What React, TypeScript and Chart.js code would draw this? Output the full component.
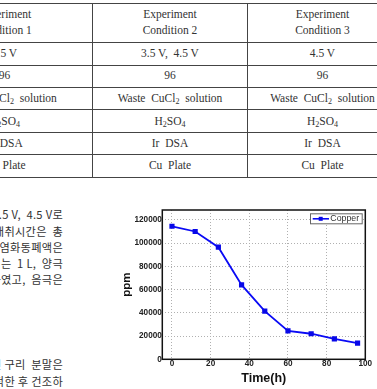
import React, { useEffect, useRef } from "react";
import { Chart, registerables } from "chart.js";

Chart.register(...registerables);

// ---- chart data ----
const seriesLabel = "Copper";
const timeH = [0, 12, 24, 36, 48, 60, 72, 84, 96];
const copperPpm = [114500, 110000, 96500, 64000, 41500, 24500, 22000, 17500, 14000];
const xTicks = [0, 20, 40, 60, 80, 100];
const yTicks = [0, 20000, 40000, 60000, 80000, 100000, 120000];
const xTitle = "Time(h)";
const yTitle = "ppm";

// ---- surrounding page content ----
const tableLinesY = [3.5, 42.5, 65, 87.5, 109.5, 132, 154.5, 177];
const tableColX = [92.5, 247.5];
const colCenters = [4.5, 170, 322.5];
const headerTop = ["Experiment", "Experiment", "Experiment"];
const headerBottom = ["Condition 1", "Condition 2", "Condition 3"];
const rowCenters = [52.7, 75, 97.7, 120.7, 142.7, 164.7];
const koreanLines = [
  "실험 전압은 3.5 V,  4.5 V로",
  "전해액의 채취시간은  총",
  "실험에 사용된 염화동폐액은",
  "전해액의 부피는  1 L,  양극",
  "Ir DSA를 사용하였고,  음극은",
  "전해 회수된 구리  분말은",
  "증류수로 세척한 후 건조하",
];
const koreanCenters = [214, 230.5, 246.5, 262.5, 278.5, 364, 381];

const FONT = "'Liberation Sans', Arial, sans-serif";
const SERIF = "'Liberation Serif', 'Times New Roman', serif";

const sub = (t: string) => (
  <sub style={{ fontSize: "0.7em", verticalAlign: "-0.3em", lineHeight: 0 }}>{t}</sub>
);
const cellContent = (r: number): React.ReactNode => {
  switch (r) {
    case 0:
      return null;
    case 1:
      return "96";
    case 2:
      return (
        <>
          Waste&nbsp; CuCl{sub("2")}&nbsp; solution
        </>
      );
    case 3:
      return (
        <>
          H{sub("2")}SO{sub("4")}
        </>
      );
    case 4:
      return <>Ir&nbsp; DSA</>;
    default:
      return <>Cu&nbsp; Plate</>;
  }
};
const voltage = ["3.5 V", "3.5 V,  4.5 V", "4.5 V"];

function CopperChart() {
  const ref = useRef<HTMLCanvasElement | null>(null);
  useEffect(() => {
    if (!ref.current) return;
    const framePlugin = {
      id: "frameLegend",
      afterDatasetsDraw(chart: any) {
        const { ctx, chartArea: a } = chart;
        ctx.save();
        ctx.strokeStyle = "#111";
        ctx.lineWidth = 1.5;
        ctx.strokeRect(a.left, a.top, a.right - a.left, a.bottom - a.top);
        // legend box
        const ds = chart.data.datasets[0];
        const bx = a.right - 55.3;
        const by = a.top + 3.3;
        const bw = 51.7;
        const bh = 10;
        ctx.fillStyle = "#fff";
        ctx.fillRect(bx, by, bw, bh);
        ctx.strokeStyle = "#666";
        ctx.lineWidth = 1;
        ctx.strokeRect(bx + 0.5, by + 0.5, bw, bh);
        const cy = by + bh / 2 + 0.5;
        ctx.strokeStyle = ds.borderColor;
        ctx.lineWidth = 1.6;
        ctx.beginPath();
        ctx.moveTo(bx + 2.7, cy);
        ctx.lineTo(bx + 19, cy);
        ctx.stroke();
        ctx.fillStyle = ds.pointBackgroundColor;
        ctx.fillRect(bx + 10.7 - 2, cy - 2, 4, 4);
        ctx.fillStyle = "#333";
        ctx.font = `8.8px ${FONT}`;
        ctx.textBaseline = "middle";
        ctx.textAlign = "left";
        ctx.fillText(ds.label, bx + 20.3, cy);
        ctx.restore();
      },
    };
    const chart = new Chart(ref.current, {
      type: "line",
      data: {
        datasets: [
          {
            label: seriesLabel,
            data: timeH.map((t, i) => ({ x: t, y: copperPpm[i] })),
            borderColor: "#0a0af5",
            backgroundColor: "#0a0af5",
            pointBackgroundColor: "#0808e8",
            pointBorderColor: "#0808e8",
            pointStyle: "rect",
            pointRadius: 2.4,
            borderWidth: 1.8,
            tension: 0,
          },
        ],
      },
      options: {
        animation: false,
        responsive: false,
        maintainAspectRatio: false,
        layout: { padding: { top: 10, right: 11.7, left: 0, bottom: 0 } },
        plugins: { legend: { display: false }, tooltip: { enabled: false } },
        scales: {
          x: {
            type: "linear",
            min: -5,
            max: 100,
            afterBuildTicks: (axis: any) => {
              axis.ticks = xTicks.map((v) => ({ value: v }));
            },
            afterFit: (s: any) => {
              s.height = 29.7;
            },
            grid: { color: "#b0b0b0", lineWidth: 1, drawTicks: false },
            border: { display: false, dash: [1, 2] },
            ticks: {
              padding: 0,
              maxRotation: 0,
              autoSkip: false,
              color: "#222",
              font: { family: FONT, size: 8.2, weight: "bold" },
              callback: (v: any) => String(v),
            },
            title: {
              display: true,
              text: xTitle,
              color: "#111",
              font: { family: FONT, size: 12.5, weight: "bold" },
              padding: { top: 0, bottom: 2.5 },
            },
          },
          y: {
            type: "linear",
            min: 0,
            max: 128500,
            afterBuildTicks: (axis: any) => {
              axis.ticks = yTicks.map((v) => ({ value: v }));
            },
            afterFit: (s: any) => {
              s.width = 52.3;
            },
            grid: { color: "#b0b0b0", lineWidth: 1, drawTicks: false },
            border: { display: false, dash: [1, 2] },
            ticks: {
              padding: 0.5,
              autoSkip: false,
              color: "#222",
              font: { family: FONT, size: 8.2, weight: "bold" },
              callback: (v: any) => String(v),
            },
            title: {
              display: true,
              text: yTitle,
              color: "#111",
              font: { family: FONT, size: 11.5, weight: "bold" },
              padding: { top: 10.1, bottom: 0 },
            },
          },
        },
      },
      plugins: [framePlugin],
    } as any);
    return () => chart.destroy();
  }, []);
  return <canvas ref={ref} width={267} height={189} style={{ display: "block" }} />;
}

export default function App() {
  return (
    <div
      style={{
        position: "absolute",
        left: 0,
        top: 0,
        width: 377,
        height: 389,
        overflow: "hidden",
        background: "#fff",
      }}
    >
      {tableLinesY.map((y, i) => (
        <div
          key={"h" + i}
          style={{ position: "absolute", left: 0, top: y - 0.5, width: 377, height: 1.2, background: "#444" }}
        />
      ))}
      {tableColX.map((x, i) => (
        <div
          key={"v" + i}
          style={{
            position: "absolute",
            left: x - 0.5,
            top: tableLinesY[0],
            width: 1.2,
            height: tableLinesY[tableLinesY.length - 1] - tableLinesY[0],
            background: "#444",
          }}
        />
      ))}
      {colCenters.map((cx, c) => (
        <React.Fragment key={"c" + c}>
          {[headerTop[c], headerBottom[c]].map((t, k) => (
            <div
              key={"hd" + k}
              style={{
                position: "absolute",
                left: cx - 100,
                width: 200,
                top: (k === 0 ? 14 : 30) - 8,
                lineHeight: "16px",
                textAlign: "center",
                whiteSpace: "nowrap",
                fontFamily: SERIF,
                fontSize: 11.5,
                color: "#333",
              }}
            >
              {t}
            </div>
          ))}
          {rowCenters.map((ry, r) => (
            <div
              key={"r" + r}
              style={{
                position: "absolute",
                left: cx - 100,
                width: 200,
                top: ry - 8,
                lineHeight: "16px",
                textAlign: "center",
                whiteSpace: "pre",
                fontFamily: SERIF,
                fontSize: 11.5,
                color: "#333",
              }}
            >
              {r === 0 ? voltage[c] : cellContent(r)}
            </div>
          ))}
        </React.Fragment>
      ))}
      {koreanLines.map((t, i) => (
        <div
          key={"k" + i}
          style={{
            position: "absolute",
            left: 63 - 300,
            width: 300,
            top: koreanCenters[i] - 8,
            lineHeight: "16px",
            textAlign: "right",
            whiteSpace: "pre",
            fontFamily: "'Noto Sans CJK KR', sans-serif",
            fontSize: 11.2,
            letterSpacing: "0.3px",
            color: "#333",
          }}
        >
          {t}
        </div>
      ))}
      <div style={{ position: "absolute", left: 110, top: 200, width: 267, height: 189 }}>
        <CopperChart />
      </div>
    </div>
  );
}
